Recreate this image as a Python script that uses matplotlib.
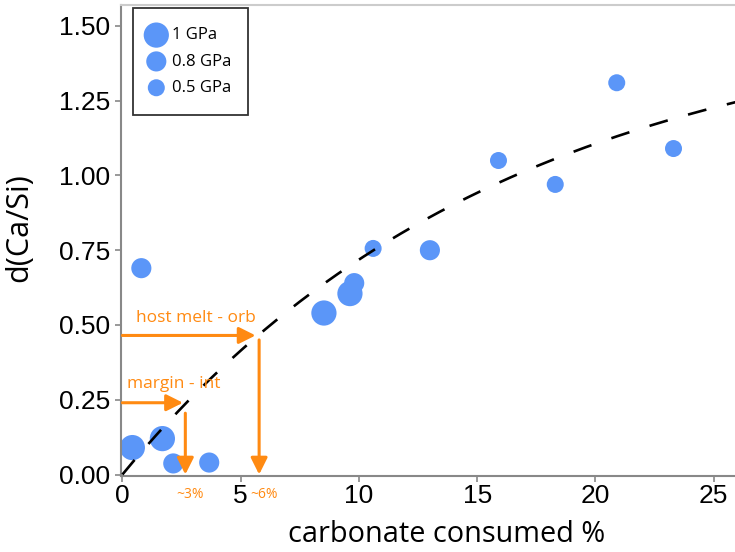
import numpy as np
import matplotlib
matplotlib.use("Agg")
import matplotlib.pyplot as plt

# ---- data ----
x_1gpa = [0.42, 1.69, 8.52, 9.62]
y_1gpa = [0.09, 0.12, 0.54, 0.605]

x_08gpa = [2.15, 3.67, 0.80, 9.80, 13.0]
y_08gpa = [0.037, 0.04, 0.69, 0.64, 0.75]

x_05gpa = [10.6, 15.9, 18.3, 20.9, 23.3]
y_05gpa = [0.756, 1.05, 0.97, 1.31, 1.09]

# fitted trend: y = A * (1 - exp(-x / B))
fit_A = 1.56
fit_B = 16.2

# annotation values
host_y, host_x = 0.465, 5.78
margin_y, margin_x = 0.24, 2.66

xticks = [0, 5, 10, 15, 20, 25]
yticks = [0.00, 0.25, 0.50, 0.75, 1.00, 1.25, 1.50]

blue = "#5B96F8"
orange = "#FF8A12"
sans = ["Liberation Sans", "DejaVu Sans"]
hum = ["Open Sans", "DejaVu Sans"]

fig = plt.figure(figsize=(7.35, 5.52), dpi=100)
ax = fig.add_axes([121/735, 1-476/552, 1-121/735, (476-5)/552])

ax.set_xlim(-0.06, 25.9)
ax.set_ylim(-0.005, 1.57)

# fit curve
xc = np.linspace(0, 26.5, 400)
ax.plot(xc, fit_A * (1 - np.exp(-xc / fit_B)), color="black", lw=1.9,
        dashes=(7.2, 8.0), zorder=3, clip_on=True)

s_big, s_mid, s_small = 330, 210, 150
ax.scatter(x_1gpa, y_1gpa, s=s_big, color=blue, edgecolors="none", zorder=2, label="1 GPa")
ax.scatter(x_08gpa, y_08gpa, s=s_mid, color=blue, edgecolors="none", zorder=2, label="0.8 GPa")
ax.scatter(x_05gpa, y_05gpa, s=s_small, color=blue, edgecolors="none", zorder=2, label="0.5 GPa")

# arrows
akw = dict(arrowstyle="-|>,head_length=1.0,head_width=0.5", color=orange, lw=2.2,
           shrinkA=0, shrinkB=0)
ax.annotate("", xy=(host_x - 0.15, host_y), xytext=(0.0, host_y), arrowprops=akw, zorder=4)
ax.annotate("", xy=(host_x, 0.0), xytext=(host_x, host_y - 0.015), arrowprops=akw, zorder=4)
ax.annotate("", xy=(margin_x - 0.1, margin_y), xytext=(0.0, margin_y), arrowprops=akw, zorder=4)
ax.annotate("", xy=(margin_x, 0.0), xytext=(margin_x, margin_y - 0.035), arrowprops=akw, zorder=4)

ax.text(3.1, 0.525, "host melt - orb", color=orange, fontsize=12.5, family=hum,
        ha="center", va="center")
ax.text(2.15, 0.302, "margin - int", color=orange, fontsize=12.5, family=hum,
        ha="center", va="center")
ax.text(margin_x + 0.2, -0.066, "~3%", color=orange, fontsize=10, family=hum,
        ha="center", va="center", clip_on=False)
ax.text(host_x + 0.2, -0.066, "~6%", color=orange, fontsize=10, family=hum,
        ha="center", va="center", clip_on=False)

# axes styling
ax.spines["right"].set_visible(False)
ax.spines["top"].set_color("#cccccc")
ax.spines["top"].set_linewidth(1.5)
for side in ["left", "bottom"]:
    ax.spines[side].set_color("#888888")
    ax.spines[side].set_linewidth(1.5)

ax.set_xticks(xticks)
ax.set_yticks(yticks)
ax.set_yticklabels([f"{v:.2f}" for v in yticks])
ax.tick_params(axis="both", colors="#888888", length=4, width=1.2, labelcolor="black",
               labelsize=19)
ax.tick_params(axis="x", pad=2)
for lab in ax.get_xticklabels() + ax.get_yticklabels():
    lab.set_family(sans)

ax.set_ylabel("d(Ca/Si)", fontsize=22, family=hum)
ax.yaxis.set_label_coords(-0.1417, 0.527)
ax.set_xlabel("carbonate consumed %", fontsize=20.8, family=hum)
ax.xaxis.set_label_coords(0.531, -0.094)

leg = ax.legend(loc="upper left", bbox_to_anchor=(0.0195, 0.983, 0.1875, 0.01),
                mode="expand", frameon=True,
                fancybox=False, edgecolor="black", prop={"family": hum, "size": 12},
                handletextpad=0.7, borderpad=1.15, labelspacing=0.62, handlelength=0.5,
                borderaxespad=0)
leg.get_frame().set_linewidth(1.3)

fig.savefig("out.png", dpi=100)
